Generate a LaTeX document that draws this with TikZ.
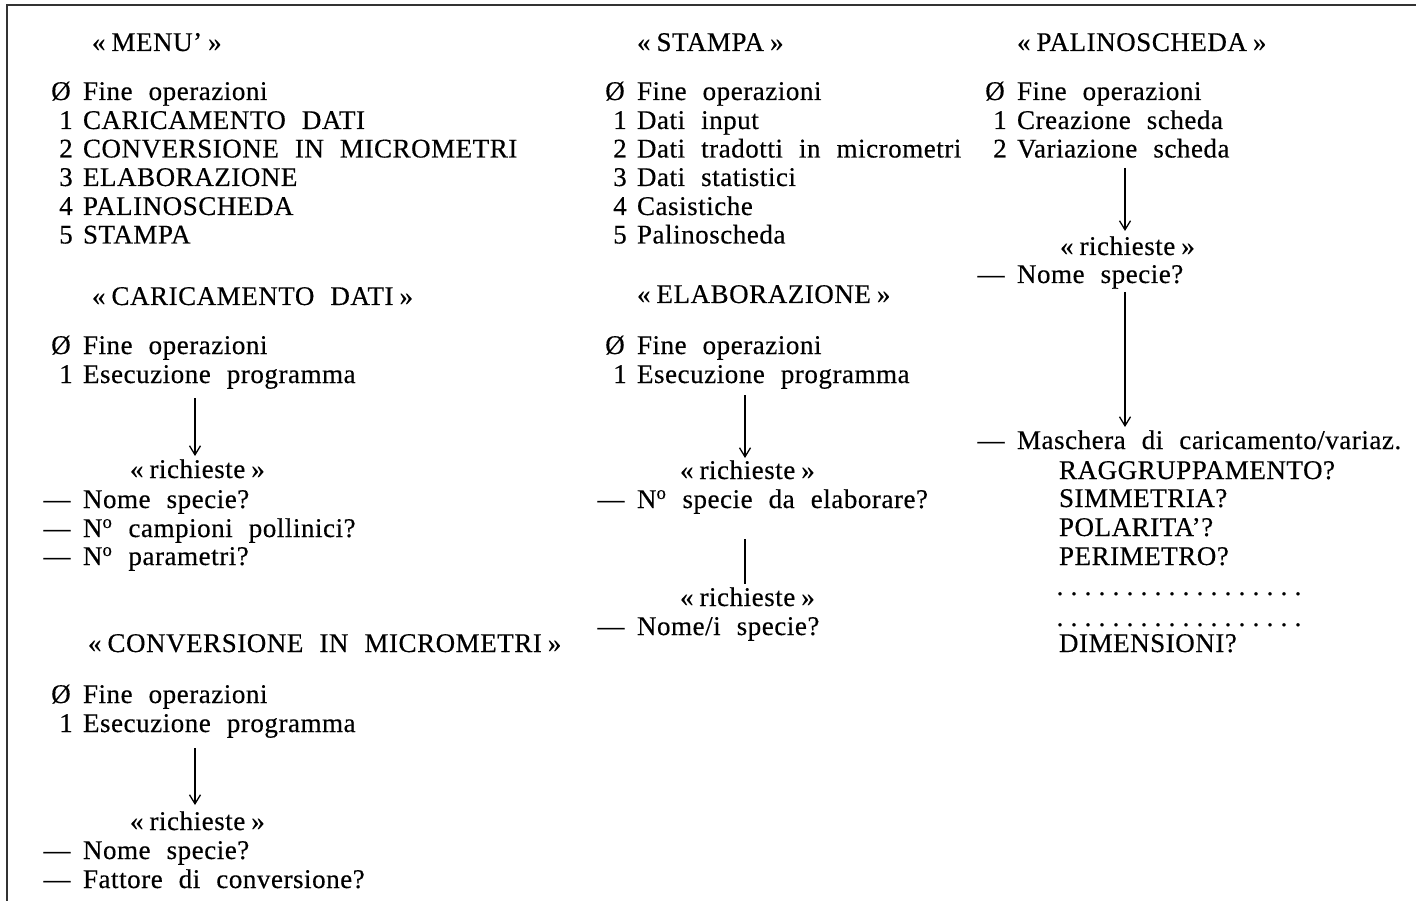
\documentclass[tikz,border=0pt]{standalone}
\usepackage{fontspec}
\setmainfont{Liberation Serif}[LetterSpace=2,WordSpace=2.2,FakeBold=0.4]
\usetikzlibrary{arrows.meta}
\tikzset{
  txt/.style={inner sep=0pt, outer sep=0pt, font=\fontsize{27pt}{30pt}\selectfont},
  conn/.style={line width=1.3pt, -{Straight Barb[length=9pt,width=11pt,line width=1.3pt]}},
  plainconn/.style={line width=1.6pt},
  frameline/.style={line width=1.6pt, black!80}
}
\newcommand\lgq{«\kern6pt}
\newcommand\rgq{\kern6pt»}
\newcommand\Nro{N\textsuperscript{o}}
\newcommand\dotrow{\hbox to 252pt{\xleaders\hbox to 14pt{\hss.\hss}\hfill}}
\newcommand\mrow[6]{%
  \node[txt,anchor=base] (#1m) at ({#2-#4},#3) {#5};
  \node[txt,anchor=base west] (#1) at (#2,#3) {#6};}
\begin{document}
\begin{tikzpicture}[x=1pt,y=-1pt]
\useasboundingbox (0,0) rectangle (1416,901);
\draw[frameline] (7,901) -- (7,5) -- (1416,5);

\begin{scope}[yshift=-2pt]
% ---------- column 1 ----------
\node[txt,anchor=base west] (hmenu) at (92,49) {\lgq MENU’\rgq};
\mrow{m0}{83}{98}{22}{Ø}{Fine operazioni}
\mrow{m1}{83}{127}{17}{1}{CARICAMENTO DATI}
\mrow{m2}{83}{155.5}{17}{2}{CONVERSIONE IN MICROMETRI}
\mrow{m3}{83}{184}{17}{3}{ELABORAZIONE}
\mrow{m4}{83}{213}{17}{4}{PALINOSCHEDA}
\mrow{m5}{83}{241.5}{17}{5}{STAMPA}

\node[txt,anchor=base west] (hcar) at (92,303) {\lgq CARICAMENTO DATI\rgq};
\mrow{c0}{83}{352}{22}{Ø}{Fine operazioni}
\mrow{c1}{83}{381}{17}{1}{Esecuzione programma}
\node[txt,anchor=base west] (crq) at (130,476) {\lgq richieste\rgq};
\mrow{c2}{83}{506}{26}{—}{Nome specie?}
\mrow{c3}{83}{535}{26}{—}{\Nro{} campioni pollinici?}
\mrow{c4}{83}{563}{26}{—}{\Nro{} parametri?}
\coordinate (ca1) at (195,396);
\coordinate (ca2) at (195,454);
\draw[conn] (ca1) -- (ca2);

\node[txt,anchor=base west] (hconv) at (88,650) {\lgq CONVERSIONE IN MICROMETRI\rgq};
\mrow{v0}{83}{701}{22}{Ø}{Fine operazioni}
\mrow{v1}{83}{730}{17}{1}{Esecuzione programma}
\node[txt,anchor=base west] (vrq) at (130,828) {\lgq richieste\rgq};
\mrow{v2}{83}{857}{26}{—}{Nome specie?}
\mrow{v3}{83}{886}{26}{—}{Fattore di conversione?}
\coordinate (va1) at (195,746);
\coordinate (va2) at (195,803);
\draw[conn] (va1) -- (va2);

% ---------- column 2 ----------
\node[txt,anchor=base west] (hst) at (637,49) {\lgq STAMPA\rgq};
\mrow{s0}{637}{98}{22}{Ø}{Fine operazioni}
\mrow{s1}{637}{127}{17}{1}{Dati input}
\mrow{s2}{637}{155.5}{17}{2}{Dati tradotti in micrometri}
\mrow{s3}{637}{184}{17}{3}{Dati statistici}
\mrow{s4}{637}{213}{17}{4}{Casistiche}
\mrow{s5}{637}{241.5}{17}{5}{Palinoscheda}

\node[txt,anchor=base west] (hel) at (637,301) {\lgq ELABORAZIONE\rgq};
\mrow{e0}{637}{352}{22}{Ø}{Fine operazioni}
\mrow{e1}{637}{381}{17}{1}{Esecuzione programma}
\node[txt,anchor=base west] (erq) at (680,477) {\lgq richieste\rgq};
\mrow{e2}{637}{506}{26}{—}{\Nro{} specie da elaborare?}
\node[txt,anchor=base west] (erq2) at (680,604) {\lgq richieste\rgq};
\mrow{e3}{637}{633}{26}{—}{Nome/i specie?}
\coordinate (ea1) at (745,393);
\coordinate (ea2) at (745,456);
\draw[conn] (ea1) -- (ea2);
\coordinate (eb1) at (745,537);
\coordinate (eb2) at (745,582);
\draw[plainconn] (eb1) -- (eb2);

% ---------- column 3 ----------
\node[txt,anchor=base west] (hpa) at (1017,49) {\lgq PALINOSCHEDA\rgq};
\mrow{p0}{1017}{98}{22}{Ø}{Fine operazioni}
\mrow{p1}{1017}{127}{17}{1}{Creazione scheda}
\mrow{p2}{1017}{155.5}{17}{2}{Variazione scheda}
\node[txt,anchor=base west] (prq) at (1060,253) {\lgq richieste\rgq};
\mrow{p3}{1017}{281}{26}{—}{Nome specie?}
\mrow{p4}{1017}{447}{26}{—}{Maschera di caricamento/variaz.}
\node[txt,anchor=base west] (q1) at (1059,477) {RAGGRUPPAMENTO?};
\node[txt,anchor=base west] (q2) at (1059,505) {SIMMETRIA?};
\node[txt,anchor=base west] (q3) at (1059,534) {POLARITA’?};
\node[txt,anchor=base west] (q4) at (1059,563) {PERIMETRO?};
\node[txt,anchor=base west] (q5) at (1053,593) {\dotrow};
\node[txt,anchor=base west] (q6) at (1053,624) {\dotrow};
\node[txt,anchor=base west] (q7) at (1059,650) {DIMENSIONI?};
\coordinate (pa1) at (1125,166);
\coordinate (pa2) at (1125,229);
\draw[conn] (pa1) -- (pa2);
\coordinate (pb1) at (1125,290);
\coordinate (pb2) at (1125,425);
\draw[conn] (pb1) -- (pb2);
\end{scope}
\end{tikzpicture}
\end{document}
